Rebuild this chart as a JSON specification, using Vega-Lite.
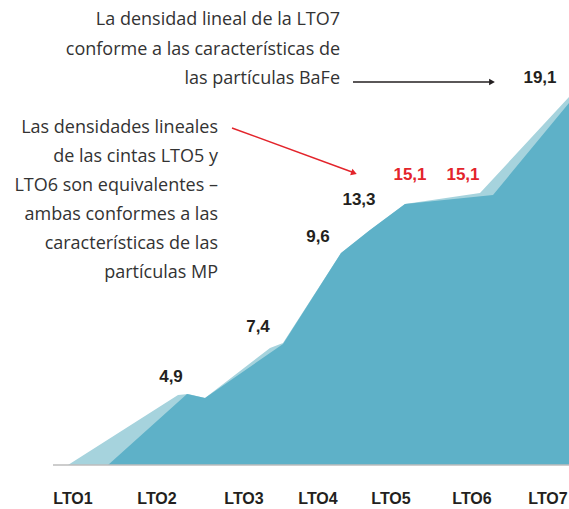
{
  "$schema": "https://vega.github.io/schema/vega-lite/v6.json",
  "width": 569,
  "height": 509,
  "autosize": {"type": "none"},
  "padding": 0,
  "background": "white",
  "config": {"view": {"stroke": null}},
  "datasets": {
    "light": [
      {"x": 53, "h": 0}, {"x": 68, "h": 0}, {"x": 178, "h": 70}, {"x": 188, "h": 71},
      {"x": 205, "h": 67}, {"x": 270, "h": 117}, {"x": 283, "h": 122}, {"x": 341, "h": 212},
      {"x": 370, "h": 235}, {"x": 405, "h": 261}, {"x": 480, "h": 272}, {"x": 569, "h": 368}
    ],
    "dark": [
      {"x": 108, "h": 0}, {"x": 187, "h": 71}, {"x": 205, "h": 67}, {"x": 283, "h": 121},
      {"x": 341, "h": 212}, {"x": 370, "h": 235}, {"x": 405, "h": 261}, {"x": 493, "h": 270},
      {"x": 569, "h": 362}
    ],
    "values": [
      {"label": "4,9", "x": 171, "h": 88, "kind": "black"},
      {"label": "7,4", "x": 258, "h": 138, "kind": "black"},
      {"label": "9,6", "x": 318, "h": 228, "kind": "black"},
      {"label": "13,3", "x": 359, "h": 265, "kind": "black"},
      {"label": "15,1", "x": 410, "h": 290, "kind": "red"},
      {"label": "15,1", "x": 463, "h": 290, "kind": "red"},
      {"label": "19,1", "x": 540, "h": 387, "kind": "black"}
    ],
    "ticks": [
      {"label": "LTO1", "x": 73}, {"label": "LTO2", "x": 157}, {"label": "LTO3", "x": 244},
      {"label": "LTO4", "x": 318}, {"label": "LTO5", "x": 391}, {"label": "LTO6", "x": 472},
      {"label": "LTO7", "x": 548}
    ],
    "notes": [
      {"line": "La densidad lineal de la LTO7", "x": 340, "h": 445},
      {"line": "conforme a las características de", "x": 340, "h": 415},
      {"line": "las partículas BaFe", "x": 340, "h": 386},
      {"line": "Las densidades lineales", "x": 218, "h": 337},
      {"line": "de las cintas LTO5 y", "x": 218, "h": 308},
      {"line": "LTO6 son equivalentes –", "x": 218, "h": 279},
      {"line": "ambas conformes a las", "x": 218, "h": 250},
      {"line": "características de las", "x": 218, "h": 221},
      {"line": "partículas MP", "x": 218, "h": 192}
    ],
    "blackArrow": [{"x": 353, "h": 383}, {"x": 490, "h": 383}],
    "redArrow": [{"x": 232, "h": 337}, {"x": 352, "h": 293}]
  },
  "layer": [
    {
      "data": {"name": "light"},
      "mark": {"type": "area", "color": "#a6d3dd", "interpolate": "linear"},
      "encoding": {
        "x": {"field": "x", "type": "quantitative", "scale": {"domain": [0, 569], "range": [0, 569], "nice": false, "zero": false}, "axis": null},
        "y": {"field": "h", "type": "quantitative", "scale": {"domain": [-44, 465], "range": [509, 0], "nice": false, "zero": false}, "axis": null},
        "y2": {"datum": 0}
      }
    },
    {
      "data": {"name": "dark"},
      "mark": {"type": "area", "color": "#5eb1c8", "interpolate": "linear"},
      "encoding": {
        "x": {"field": "x", "type": "quantitative"},
        "y": {"field": "h", "type": "quantitative"},
        "y2": {"datum": 0}
      }
    },
    {
      "data": {"values": [{"x": 53, "x2": 569, "h": 0}]},
      "mark": {"type": "rule", "color": "#bdbdbd", "strokeWidth": 1.5},
      "encoding": {
        "x": {"field": "x", "type": "quantitative"},
        "x2": {"field": "x2"},
        "y": {"field": "h", "type": "quantitative"}
      }
    },
    {
      "data": {"name": "values"},
      "mark": {"type": "text", "font": "Liberation Sans", "fontSize": 17, "fontWeight": "bold", "align": "center", "baseline": "middle"},
      "encoding": {
        "x": {"field": "x", "type": "quantitative"},
        "y": {"field": "h", "type": "quantitative"},
        "text": {"field": "label"},
        "color": {"field": "kind", "type": "nominal", "scale": {"domain": ["black", "red"], "range": ["#231f20", "#e3242b"]}, "legend": null}
      }
    },
    {
      "data": {"name": "ticks"},
      "mark": {"type": "text", "font": "Liberation Sans", "fontSize": 16, "fontWeight": "bold", "align": "center", "baseline": "middle", "color": "#231f20"},
      "encoding": {
        "x": {"field": "x", "type": "quantitative"},
        "y": {"datum": -34},
        "text": {"field": "label"}
      }
    },
    {
      "data": {"name": "notes"},
      "mark": {"type": "text", "font": "Open Sans", "fontSize": 18, "align": "right", "baseline": "middle", "color": "#333333"},
      "encoding": {
        "x": {"field": "x", "type": "quantitative"},
        "y": {"field": "h", "type": "quantitative"},
        "text": {"field": "line"}
      }
    },
    {
      "data": {"name": "blackArrow"},
      "mark": {"type": "line", "color": "#231f20", "strokeWidth": 1.5},
      "encoding": {
        "x": {"field": "x", "type": "quantitative"},
        "y": {"field": "h", "type": "quantitative"}
      }
    },
    {
      "data": {"values": [{"x": 492, "h": 383}]},
      "mark": {"type": "point", "shape": "triangle-right", "filled": true, "color": "#231f20", "size": 45, "opacity": 1},
      "encoding": {
        "x": {"field": "x", "type": "quantitative"},
        "y": {"field": "h", "type": "quantitative"}
      }
    },
    {
      "data": {"name": "redArrow"},
      "mark": {"type": "line", "color": "#e3242b", "strokeWidth": 1.5},
      "encoding": {
        "x": {"field": "x", "type": "quantitative"},
        "y": {"field": "h", "type": "quantitative"}
      }
    },
    {
      "data": {"values": [{"x": 354, "h": 292}]},
      "mark": {"type": "point", "shape": "triangle-right", "filled": true, "color": "#e3242b", "size": 45, "opacity": 1, "angle": 20},
      "encoding": {
        "x": {"field": "x", "type": "quantitative"},
        "y": {"field": "h", "type": "quantitative"}
      }
    }
  ]
}
